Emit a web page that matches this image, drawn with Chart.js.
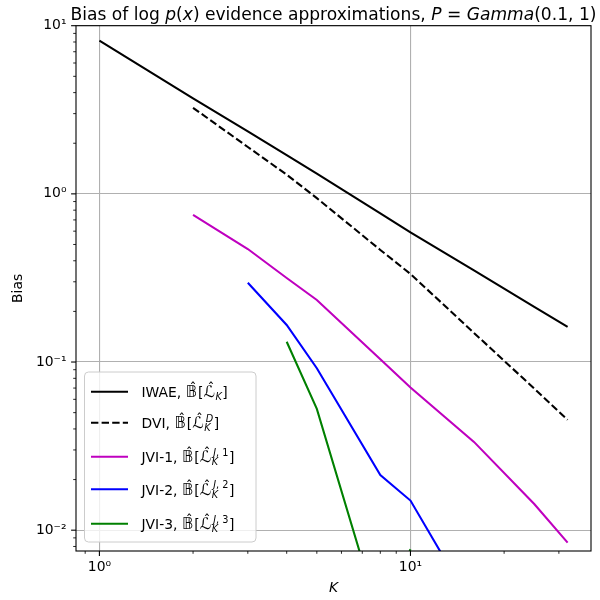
<!DOCTYPE html>
<html>
<head>
<meta charset="utf-8">
<script src="https://cdn.jsdelivr.net/npm/chart.js@4/dist/chart.umd.min.js"></script>
<style>
  html, body { margin: 0; padding: 0; background: #fff; }
</style>
</head>
<body>
<canvas id="bias-chart" width="600" height="600"></canvas>
<script>
// number of importance samples K
const kValues = [1, 2, 3, 4, 5, 8, 10, 16, 25, 32];

// estimated bias of each evidence approximation (null = not defined for that K)
const iwaeBias = [8.15, 3.70, 2.35, 1.70, 1.32, 0.766, 0.59, 0.351, 0.213, 0.162];
const dviBias  = [null, 3.25, 1.90, 1.30, 0.943, 0.464, 0.334, 0.149, 0.0695, 0.0453];
const jvi1Bias = [null, 0.749, 0.470, 0.316, 0.234, 0.104, 0.0705, 0.0335, 0.0143, 0.00844];
const jvi2Bias = [null, null, 0.296, 0.166, 0.0918, 0.0213, 0.0150, 0.0034, null, null];
const jvi3Bias = [null, null, null, 0.132, 0.0526, 0.0029, 0.0077, null, null, null];

// axis limits and labelled ticks
const xRange = [0.8409, 38.05];
const yRange = [0.00752, 10];
const xMajorTicks = [1, 10];
const xTickLabels = ['10⁰', '10¹'];
const yMajorTicks = [0.01, 0.1, 1, 10];
const yTickLabels = ['10⁻²', '10⁻¹', '10⁰', '10¹'];

const FONT = '"DejaVu Sans", sans-serif';
const LABEL_SIZE = 13.9;
const TITLE_SIZE = 17.1;

function fontSpec(size, italic) {
  return (italic ? 'italic ' : '') + size + 'px ' + FONT;
}

function isPow10(v) {
  const l = Math.log10(v);
  return Math.abs(l - Math.round(l)) < 1e-9;
}

// decade ticks 1..9 x 10^e inside the axis range
function logTicks(min, max) {
  const ticks = [];
  for (let e = Math.floor(Math.log10(min)); e <= Math.ceil(Math.log10(max)); e++) {
    for (let m = 1; m <= 9; m++) {
      const v = parseFloat((m * Math.pow(10, e)).toPrecision(12));
      if (v >= min && v <= max) ticks.push({ value: v, major: m === 1 });
    }
  }
  return ticks;
}

function tickLabel(value, majors, labels) {
  const i = majors.findIndex(t => Math.abs(t - value) / t < 1e-9);
  return i >= 0 ? labels[i] : '';
}

function makeSeries(values) {
  return kValues.map((k, i) => ({ x: k, y: values[i] }));
}

// --- small rich-text helper for the math labels ---
function partWidth(ctx, p, size) {
  const fs = size * (p.sc || 1);
  ctx.font = fontSpec(fs, p.it);
  let w = ctx.measureText(p.t).width + (p.gap || 0);
  if (p.sub || p.sup) {
    const s = size * 0.7;
    w += Math.max(p.sub ? runWidth(ctx, p.sub, s) : 0, p.sup ? runWidth(ctx, p.sup, s) + 1.5 : 0) + 0.5;
  }
  return w;
}

function runWidth(ctx, parts, size) {
  return parts.reduce((a, p) => a + partWidth(ctx, p, size), 0);
}

function drawRun(ctx, parts, x, y, size) {
  parts.forEach(p => {
    const fs = size * (p.sc || 1);
    ctx.font = fontSpec(fs, p.it);
    ctx.textAlign = 'left';
    ctx.textBaseline = 'alphabetic';
    const w = ctx.measureText(p.t).width;
    ctx.fillText(p.t, x, y);
    if (p.hat) {
      ctx.font = fontSpec(size, false);
      ctx.textAlign = 'center';
      ctx.fillText('ˆ', x + w / 2 + size * 0.12, y - size * 0.27);
      ctx.textAlign = 'left';
    }
    let adv = w + (p.gap || 0);
    if (p.sub || p.sup) {
      const s = size * 0.7;
      const sx = x + adv;
      let sw = 0;
      if (p.sub) {
        drawRun(ctx, p.sub, sx, y + size * 0.25, s);
        sw = Math.max(sw, runWidth(ctx, p.sub, s));
      }
      if (p.sup) {
        drawRun(ctx, p.sup, sx + 1.5, y - size * 0.45, s);
        sw = Math.max(sw, runWidth(ctx, p.sup, s) + 1.5);
      }
      adv += sw + 0.5;
    }
    x += adv;
  });
  return x;
}

const titleParts = [
  { t: 'Bias of log ' }, { t: 'p', it: true }, { t: '(' }, { t: 'x', it: true },
  { t: ') evidence approximations, ' }, { t: 'P', it: true }, { t: ' = ' },
  { t: 'Gamma', it: true }, { t: '(0.1, 1)' }
];

const bbHat = { t: '𝔹', it: true, hat: true, sc: 1.12, gap: 1 };
function lHat(sub, sup) { return { t: 'ℒ', it: true, hat: true, sc: 1.15, gap: 0.5, sub, sup }; }
const subK = [{ t: 'K', it: true }];
function jviSup(n) { return [{ t: 'J', it: true }, { t: ', ' }, { t: n }]; }

const series = [
  { values: iwaeBias, color: '#000000', dash: [],
    label: [{ t: 'IWAE, ' }, bbHat, { t: '[' }, lHat(subK), { t: ']' }] },
  { values: dviBias, color: '#000000', dash: [7.4, 3.2],
    label: [{ t: 'DVI, ' }, bbHat, { t: '[' }, lHat(subK, [{ t: 'D', it: true }]), { t: ']' }] },
  { values: jvi1Bias, color: '#bf00bf', dash: [],
    label: [{ t: 'JVI-1, ' }, bbHat, { t: '[' }, lHat(subK, jviSup('1')), { t: ']' }] },
  { values: jvi2Bias, color: '#0000ff', dash: [],
    label: [{ t: 'JVI-2, ' }, bbHat, { t: '[' }, lHat(subK, jviSup('2')), { t: ']' }] },
  { values: jvi3Bias, color: '#008000', dash: [],
    label: [{ t: 'JVI-3, ' }, bbHat, { t: '[' }, lHat(subK, jviSup('3')), { t: ']' }] }
];

// frame, outward tick marks, title and legend drawn on top of the lines
const decorations = {
  id: 'decorations',
  afterDatasetsDraw(chart) {
    const { ctx, chartArea: a } = chart;
    const xs = chart.scales.x, ys = chart.scales.y;
    ctx.save();
    ctx.strokeStyle = '#000';
    ctx.lineWidth = 1.1;
    ctx.strokeRect(a.left, a.top, a.right - a.left, a.bottom - a.top);

    xs.ticks.forEach(t => {
      const px = xs.getPixelForValue(t.value);
      const major = isPow10(t.value);
      ctx.lineWidth = major ? 1.1 : 0.85;
      ctx.beginPath();
      ctx.moveTo(px, a.bottom);
      ctx.lineTo(px, a.bottom + (major ? 4.9 : 2.8));
      ctx.stroke();
    });
    ys.ticks.forEach(t => {
      const py = ys.getPixelForValue(t.value);
      const major = isPow10(t.value);
      ctx.lineWidth = major ? 1.1 : 0.85;
      ctx.beginPath();
      ctx.moveTo(a.left, py);
      ctx.lineTo(a.left - (major ? 4.9 : 2.8), py);
      ctx.stroke();
    });

    // legend
    const box = { x: 84.5, y: 372, w: 171.5, h: 170 };
    ctx.fillStyle = 'rgba(255,255,255,0.8)';
    ctx.strokeStyle = '#cccccc';
    ctx.lineWidth = 1;
    ctx.beginPath();
    ctx.roundRect(box.x, box.y, box.w, box.h, 4);
    ctx.fill();
    ctx.stroke();

    const rowY = [391.7, 422.7, 456.7, 489.3, 523.7];
    series.forEach((s, i) => {
      ctx.strokeStyle = s.color;
      ctx.lineWidth = 2.08;
      ctx.setLineDash(s.dash);
      ctx.beginPath();
      ctx.moveTo(91, rowY[i]);
      ctx.lineTo(128, rowY[i]);
      ctx.stroke();
      ctx.setLineDash([]);
      ctx.fillStyle = '#000';
      drawRun(ctx, s.label, 141.5, rowY[i] + 5.2, LABEL_SIZE);
    });

    // title
    ctx.fillStyle = '#000';
    const tw = runWidth(ctx, titleParts, TITLE_SIZE);
    drawRun(ctx, titleParts, (a.left + a.right) / 2 - tw / 2, 19.5, TITLE_SIZE);
    ctx.restore();
  }
};

const gridColor = ctx => (ctx.tick && isPow10(ctx.tick.value)) ? '#b0b0b0' : 'rgba(0,0,0,0)';

new Chart(document.getElementById('bias-chart'), {
  type: 'line',
  data: {
    datasets: series.map(s => ({
      data: makeSeries(s.values),
      borderColor: s.color,
      borderWidth: 2.08,
      borderDash: s.dash,
      pointRadius: 0,
      tension: 0,
      spanGaps: false,
      fill: false
    }))
  },
  options: {
    responsive: false,
    animation: false,
    layout: { padding: { top: 25.7, right: 9, left: 0, bottom: 0 } },
    plugins: { legend: { display: false }, title: { display: false }, tooltip: { enabled: false } },
    scales: {
      x: {
        type: 'logarithmic',
        min: xRange[0],
        max: xRange[1],
        afterBuildTicks: axis => { axis.ticks = logTicks(xRange[0], xRange[1]); },
        afterFit: axis => { axis.height = 49; },
        grid: { color: gridColor, lineWidth: 1.1, drawTicks: false },
        border: { display: false },
        ticks: {
          autoSkip: false, maxRotation: 0, padding: 8, color: '#000',
          font: { family: FONT, size: LABEL_SIZE },
          callback: v => tickLabel(v, xMajorTicks, xTickLabels)
        },
        title: {
          display: true, text: 'K', color: '#000',
          font: { family: FONT, size: LABEL_SIZE, style: 'italic' },
          padding: { top: 0, bottom: 3.7 }
        }
      },
      y: {
        type: 'logarithmic',
        min: yRange[0],
        max: yRange[1],
        afterBuildTicks: axis => { axis.ticks = logTicks(yRange[0], yRange[1]); },
        afterFit: axis => { axis.width = 76; },
        grid: { color: gridColor, lineWidth: 1.1, drawTicks: false },
        border: { display: false },
        ticks: {
          autoSkip: false, padding: 9.5, color: '#000',
          font: { family: FONT, size: LABEL_SIZE },
          callback: v => tickLabel(v, yMajorTicks, yTickLabels)
        },
        title: {
          display: true, text: 'Bias', color: '#000',
          font: { family: FONT, size: LABEL_SIZE },
          padding: { top: 9.7, bottom: 0 }
        }
      }
    }
  },
  plugins: [decorations]
});
</script>
</body>
</html>
